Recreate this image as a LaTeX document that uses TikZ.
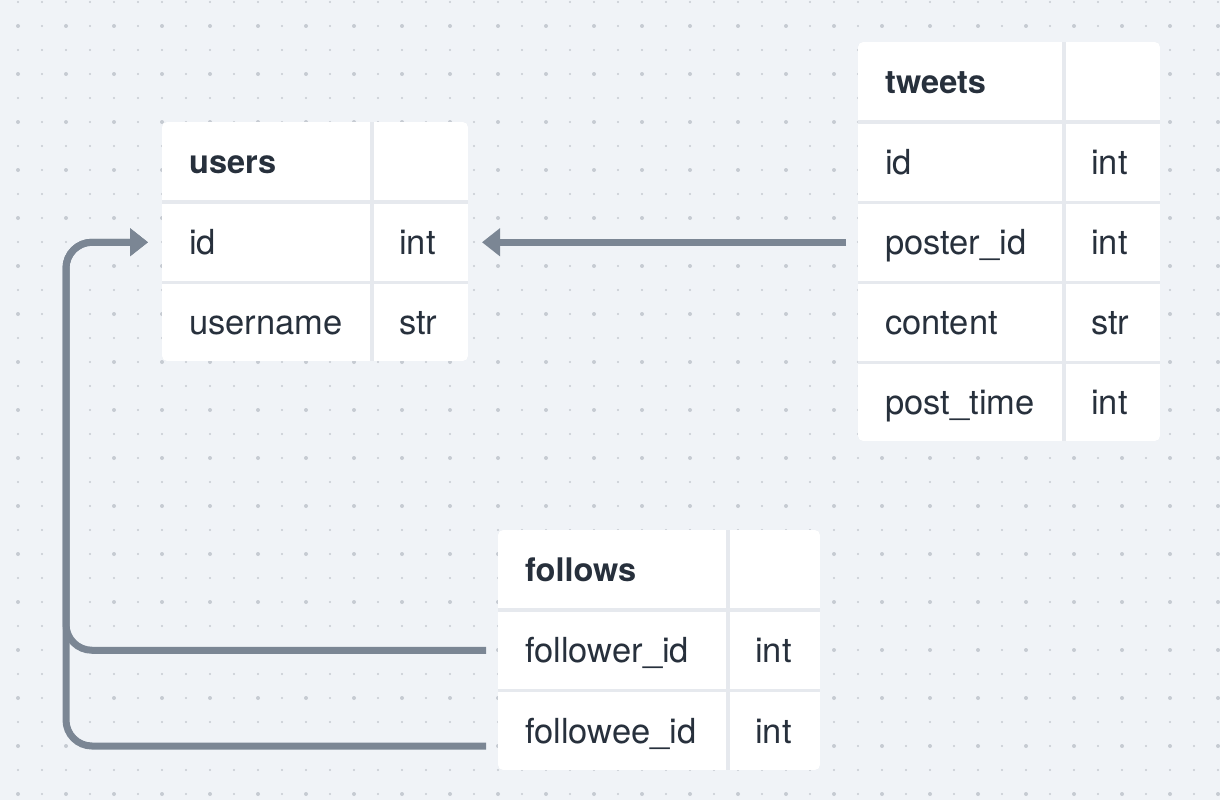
\documentclass[tikz,border=0pt]{standalone}
\usepackage{fontspec}
\setmainfont{TeX Gyre Heros}
\usetikzlibrary{arrows.meta}
\definecolor{bg}{HTML}{F0F3F7}
\definecolor{dotc}{HTML}{C6CBD2}
\definecolor{gapc}{HTML}{E6E9EE}
\definecolor{ink}{HTML}{27303C}
\definecolor{connc}{HTML}{7B8694}
% #1 id, #2 x0, #3 w1, #4 w2, #5 ytop, #6 height, #7 name text, #8 type text
\newcommand{\dbrow}[8]{%
  \node[cell, minimum width=#3pt, minimum height=#6pt] (#1n) at (#2,#5) {};
  \node[cell, minimum width=#4pt, minimum height=#6pt] (#1t) at (#2+#3+4,#5) {};
  \node[txt] (#1nl) at ([xshift=27pt,yshift=-12pt]#1n.west) {#7};
  \node[txt] (#1tl) at ([xshift=25pt,yshift=-12pt]#1t.west) {#8};}
\newcommand{\dbhead}[7]{%
  \node[cell, minimum width=#3pt, minimum height=#6pt] (#1n) at (#2,#5) {};
  \node[cell, minimum width=#4pt, minimum height=#6pt] (#1t) at (#2+#3+4,#5) {};
  \node[hdr] (#1nl) at ([xshift=27pt,yshift=-12pt]#1n.west) {#7};}
\begin{document}
\begin{tikzpicture}[x=1pt,y=-1pt,
  cell/.style={fill=white, inner sep=0, outer sep=0, anchor=north west},
  txt/.style={inner sep=0, anchor=base west, text=ink, font=\fontsize{34.5}{40}\selectfont},
  hdr/.style={txt, font=\fontsize{32.5}{40}\selectfont\bfseries},
  link/.style={draw=connc, line width=7pt, rounded corners=26pt,
    -{Triangle[length=18pt,width=27pt]}}]
\useasboundingbox (0,0) rectangle (1220,800);
\fill[bg] (0,0) rectangle (1220,800);
% dot grid
\foreach \i in {0,...,50}{\foreach \j in {0,...,33}{\fill[dotc] (18+24*\i,2+24*\j) circle (1.1pt);}}
\foreach \i in {0,...,25}{\foreach \j in {0,...,16}{\fill[dotc] (18+48*\i,26+48*\j) circle (2pt);}}
% users
\begin{scope}
  \clip[rounded corners=5pt] (162,122) rectangle (468,361);
  \fill[gapc] (162,122) rectangle (468,361);
  \dbhead{us0}{162}{208}{94}{122}{78}{users}
  \dbrow{us1}{162}{208}{94}{204}{76.5}{id}{int}
  \dbrow{us2}{162}{208}{94}{284}{77}{username}{str}
\end{scope}
% tweets
\begin{scope}
  \clip[rounded corners=5pt] (858,42) rectangle (1160,441);
  \fill[gapc] (858,42) rectangle (1160,441);
  \dbhead{tw0}{858}{204}{94}{42}{78}{tweets}
  \dbrow{tw1}{858}{204}{94}{124}{76.5}{id}{int}
  \dbrow{tw2}{858}{204}{94}{204}{76.5}{poster\_id}{int}
  \dbrow{tw3}{858}{204}{94}{284}{76.5}{content}{str}
  \dbrow{tw4}{858}{204}{94}{364}{77}{post\_time}{int}
\end{scope}
% follows
\begin{scope}
  \clip[rounded corners=5pt] (498,530) rectangle (820,770);
  \fill[gapc] (498,530) rectangle (820,770);
  \dbhead{fo0}{498}{228}{90}{530}{78}{follows}
  \dbrow{fo1}{498}{228}{90}{612}{76.5}{follower\_id}{int}
  \dbrow{fo2}{498}{228}{90}{692}{78}{followee\_id}{int}
\end{scope}
% connectors
\coordinate (trunk) at (66,0);
\coordinate (fo2end) at ([xshift=-12pt,yshift=-15pt]fo2n.west);
\draw[link] ([xshift=-12pt]tw2n.west) -- ([xshift=14pt]us1t.east);
\draw[link] ([xshift=-12pt]fo1n.west) -- (trunk |- fo1n.west) -- (trunk |- us1n.west) -- ([xshift=-14pt]us1n.west);
\draw[link] (fo2end) -- (trunk |- fo2end) -- (trunk |- us1n.west) -- ([xshift=-14pt]us1n.west);
\end{tikzpicture}
\end{document}
